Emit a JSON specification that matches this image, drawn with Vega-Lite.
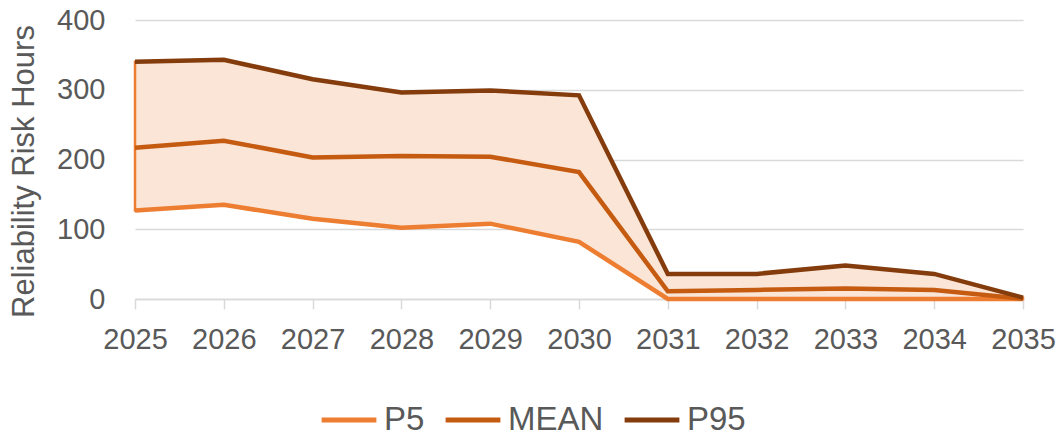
{
  "$schema": "https://vega.github.io/schema/vega-lite/v6.json",
  "width": 888,
  "height": 279,
  "autosize": {"type": "none"},
  "padding": {"left": 135, "top": 20, "right": 38, "bottom": 139},
  "background": "white",
  "config": {
    "view": {"stroke": null},
    "font": "Liberation Sans"
  },
  "data": {
    "values": [
      {"year": "2025", "P5": 127, "MEAN": 217, "P95": 340},
      {"year": "2026", "P5": 135, "MEAN": 227, "P95": 343},
      {"year": "2027", "P5": 115, "MEAN": 203, "P95": 315},
      {"year": "2028", "P5": 102, "MEAN": 205, "P95": 296},
      {"year": "2029", "P5": 108, "MEAN": 204, "P95": 299},
      {"year": "2030", "P5": 82, "MEAN": 182, "P95": 292},
      {"year": "2031", "P5": 0, "MEAN": 11, "P95": 36},
      {"year": "2032", "P5": 0, "MEAN": 13, "P95": 36},
      {"year": "2033", "P5": 0, "MEAN": 15, "P95": 48},
      {"year": "2034", "P5": 0, "MEAN": 13, "P95": 36},
      {"year": "2035", "P5": 0, "MEAN": 0.5, "P95": 2}
    ]
  },
  "encoding": {
    "x": {
      "field": "year",
      "type": "ordinal",
      "scale": {"type": "point", "padding": 0},
      "axis": {
        "title": null,
        "labelAngle": 0,
        "labelFontSize": 29,
        "labelColor": "#595959",
        "labelPadding": 16,
        "domainColor": "#D9D9D9",
        "domainWidth": 1.5,
        "tickColor": "#D9D9D9",
        "tickWidth": 1.5,
        "tickSize": 10,
        "grid": false
      }
    }
  },
  "layer": [
    {
      "mark": {"type": "area", "color": "#FBE5D6", "stroke": "#ED7D31", "strokeWidth": 2.5, "opacity": 1},
      "encoding": {
        "y": {
          "field": "P95",
          "type": "quantitative",
          "scale": {"domain": [0, 400]},
          "axis": {
            "title": "Reliability Risk Hours",
            "titleFontSize": 31,
            "titleFontWeight": "normal",
            "titleColor": "#595959",
            "titlePadding": 16,
            "titleY": 151,
            "labelFontSize": 29,
            "labelColor": "#595959",
            "labelPadding": 30,
            "values": [0, 100, 200, 300, 400],
            "domain": false,
            "ticks": false,
            "gridColor": "#D9D9D9",
            "gridWidth": 1.5
          }
        },
        "y2": {"field": "P5"}
      }
    },
    {
      "transform": [{"fold": ["P5", "MEAN", "P95"], "as": ["series", "value"]}],
      "mark": {"type": "line", "strokeWidth": 4.5},
      "encoding": {
        "y": {"field": "value", "type": "quantitative"},
        "color": {
          "field": "series",
          "type": "nominal",
          "scale": {"domain": ["P5", "MEAN", "P95"], "range": ["#ED7D31", "#C55A11", "#843C0C"]},
          "legend": {
            "title": null,
            "orient": "none",
            "legendX": 184,
            "legendY": 370,
            "direction": "horizontal",
            "symbolType": "stroke",
            "symbolSize": 3000,
            "symbolStrokeWidth": 5,
            "labelFontSize": 33,
            "labelColor": "#595959",
            "labelOffset": 5,
            "columnPadding": 10
          }
        }
      }
    }
  ]
}
